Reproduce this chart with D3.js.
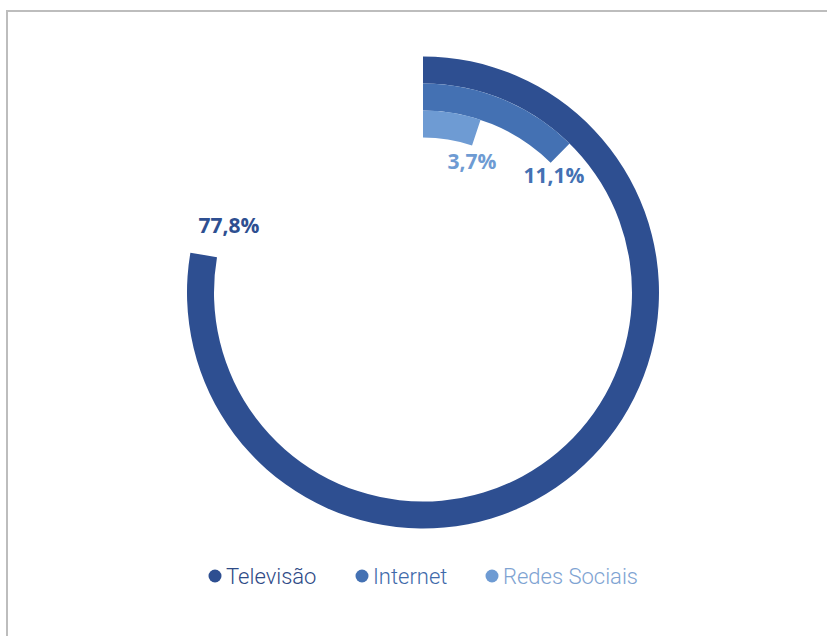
<!DOCTYPE html>
<html>
<head>
<meta charset="utf-8">
<script src="https://cdn.jsdelivr.net/npm/d3@7/dist/d3.min.js"></script>
<style>
  html, body { margin: 0; padding: 0; background: #fff; }
  svg { display: block; }
</style>
</head>
<body>
<svg id="chart" width="827" height="636"></svg>
<script>
// Media share (%) — outer ring first
const categories = ["Televisão", "Internet", "Redes Sociais"];
const values = [77.8, 11.1, 3.7];
const labels = ["77,8%", "11,1%", "3,7%"];
const colors = ["#2e4f91", "#4471b3", "#6e9bd3"];
const legendColors = ["#2e4a86", "#3f6aaa", "#7ea3d2"];

const svg = d3.select("#chart");

// frame
svg.append("path")
  .attr("d", "M7,636 V11 H827")
  .attr("fill", "none")
  .attr("stroke", "#bdbdbd")
  .attr("stroke-width", 2);

const cx = 423, cy = 292.5;
const outerR = 236, ringW = 27;

// sweep angle per value; a small base sweep keeps the short bars readable
const angle = d3.scaleLinear().domain([0, 100]).range([5.4 * Math.PI / 180, 358 * Math.PI / 180]);

// one ring per category, outermost first
const ring = d3.scaleBand().domain(categories).range([outerR, outerR - ringW * 3]);

const g = svg.append("g").attr("transform", `translate(${cx},${cy})`);

const arc = d3.arc()
  .startAngle(0)
  .endAngle((d, i) => angle(values[i]))
  .innerRadius((d) => ring(d))
  .outerRadius((d) => ring(d) + ring.bandwidth());

g.selectAll("path.bar")
  .data(categories)
  .join("path")
  .attr("class", "bar")
  .attr("d", (d, i) => arc(d, i))
  .attr("fill", (d, i) => colors[i]);

// value labels near each bar end
const labelPos = [
  { dx: -194, dy: -60 },
  { dx: 131, dy: -110 },
  { dx: 49, dy: -124 }
];
g.selectAll("text.val")
  .data(categories)
  .join("text")
  .attr("class", "val")
  .attr("x", (d, i) => labelPos[i].dx)
  .attr("y", (d, i) => labelPos[i].dy)
  .attr("text-anchor", "middle")
  .attr("font-family", "'Open Sans', sans-serif")
  .attr("font-weight", 700)
  .attr("font-size", 21)
  .attr("fill", (d, i) => colors[i])
  .text((d, i) => labels[i]);

// legend
const legendX = [215, 362, 492];
const lg = svg.append("g").attr("transform", "translate(0,576)");
const item = lg.selectAll("g")
  .data(categories)
  .join("g")
  .attr("transform", (d, i) => `translate(${legendX[i]},0)`);
item.append("circle")
  .attr("r", 6.5)
  .attr("fill", (d, i) => colors[i]);
item.append("text")
  .attr("x", 11)
  .attr("y", 7.5)
  .attr("font-family", "Roboto, sans-serif")
  .attr("font-size", 22)
  .attr("font-weight", 300)
  .attr("fill", (d, i) => legendColors[i])
  .text((d) => d);
</script>
</body>
</html>
